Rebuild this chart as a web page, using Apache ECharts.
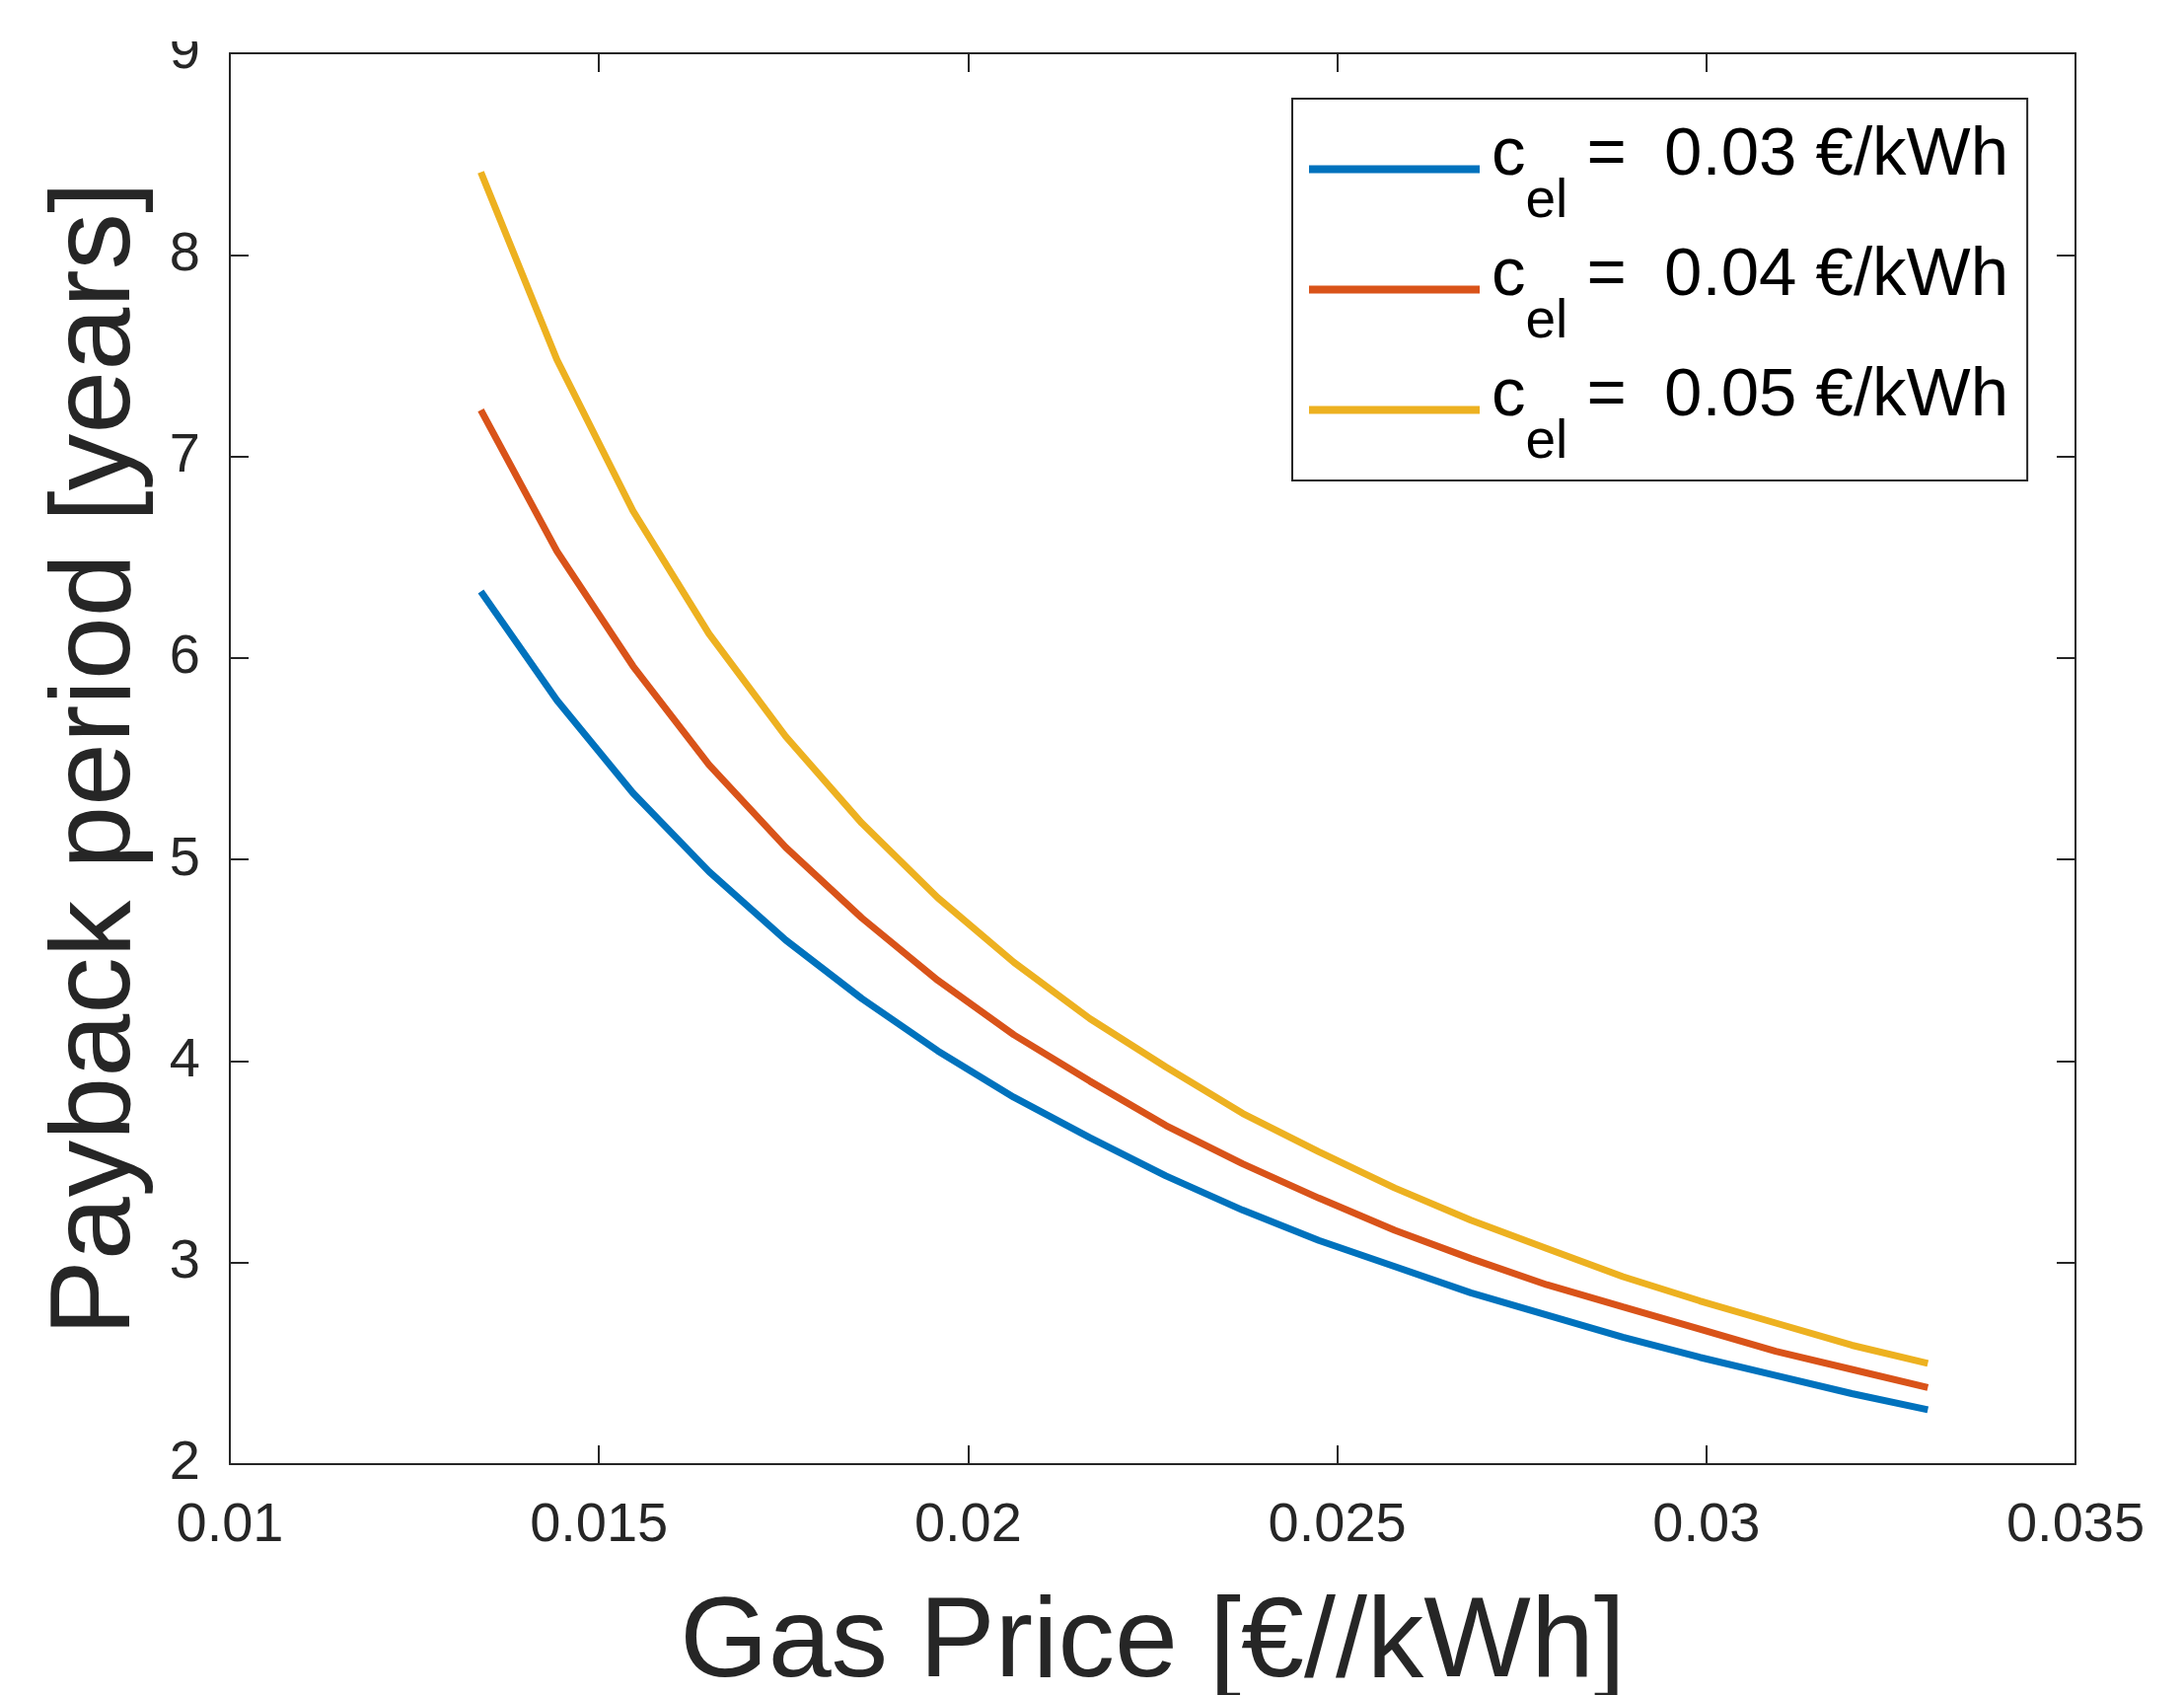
<!DOCTYPE html>
<html>
<head>
<meta charset="utf-8">
<script src="https://cdn.jsdelivr.net/npm/echarts@6/dist/echarts.min.js"></script>
<style>
html,body{margin:0;padding:0;background:#fff;}
#chart{width:2214px;height:1718px;}
</style>
</head>
<body>
<div id="chart"></div>
<script>
// ---- data ----
const gasPrice = [0.01340, 0.01443, 0.01546, 0.01649, 0.01753, 0.01856, 0.01959, 0.02062, 0.02165, 0.02268,
                  0.02372, 0.02475, 0.02578, 0.02681, 0.02784, 0.02887, 0.02991, 0.03094, 0.03197, 0.03300];
const payback_el003 = [6.33, 5.79, 5.33, 4.94, 4.60, 4.31, 4.05, 3.82, 3.62, 3.43,
                       3.26, 3.11, 2.98, 2.85, 2.74, 2.63, 2.53, 2.44, 2.35, 2.27];
const payback_el004 = [7.23, 6.53, 5.96, 5.47, 5.06, 4.71, 4.40, 4.13, 3.90, 3.68,
                       3.49, 3.32, 3.16, 3.02, 2.89, 2.78, 2.67, 2.56, 2.47, 2.38];
const payback_el005 = [8.41, 7.48, 6.73, 6.12, 5.61, 5.18, 4.81, 4.49, 4.21, 3.97,
                       3.74, 3.55, 3.37, 3.21, 3.07, 2.93, 2.81, 2.70, 2.59, 2.50];
const elPrices = ['0.03', '0.04', '0.05'];
const xTicks = [0.01, 0.015, 0.02, 0.025, 0.03, 0.035];
const yTicks = [2, 3, 4, 5, 6, 7, 8, 9];
const seriesColors = ['#0072BD', '#D95319', '#EDB120'];
const xTitle = 'Gas Price [€//kWh]';
const yTitle = 'Payback period [years]';

const FONT = "'Liberation Sans', Arial, Helvetica, sans-serif";
const AX = '#262626';
const allPayback = [payback_el003, payback_el004, payback_el005];
const seriesNames = elPrices.map(p => 'cel =  ' + p + ' €/kWh');

const xMin = xTicks[0], xMax = xTicks[xTicks.length - 1], xInt = xTicks[1] - xTicks[0];
const yMin = yTicks[0], yMax = yTicks[yTicks.length - 1], yInt = yTicks[1] - yTicks[0];

function fmt(v) { return String(parseFloat(Number(v).toFixed(6))); }

function baseAxis(extra) {
  return Object.assign({
    type: 'value',
    splitLine: { show: false },
    axisLine: { show: true, onZero: false, lineStyle: { color: AX, width: 2 } },
    axisTick: { show: true, inside: true, length: 19, lineStyle: { color: AX, width: 2 } }
  }, extra);
}

const chart = echarts.init(document.getElementById('chart'), null, { renderer: 'canvas' });
chart.setOption({
  animation: false,
  backgroundColor: '#fff',
  grid: { left: 233, right: 110, top: 54, bottom: 234, containLabel: false, outerBoundsMode: 'none' },
  xAxis: [
    baseAxis({
      position: 'bottom', min: xMin, max: xMax, interval: xInt,
      axisLabel: { color: AX, fontFamily: FONT, fontSize: 56, margin: 35, showMinLabel: true, showMaxLabel: true, formatter: fmt },
      name: xTitle, nameLocation: 'middle', nameGap: 126, nameMoveOverlap: false,
      nameTextStyle: { color: AX, fontFamily: FONT, fontSize: 115 }
    }),
    baseAxis({ position: 'top', min: xMin, max: xMax, interval: xInt, axisLabel: { show: false } })
  ],
  yAxis: [
    baseAxis({
      position: 'left', min: yMin, max: yMax, interval: yInt,
      axisLabel: { color: AX, fontFamily: FONT, fontSize: 56, margin: 30, showMinLabel: true, showMaxLabel: true, formatter: fmt },
      name: yTitle, nameLocation: 'middle', nameGap: 76, nameMoveOverlap: false,
      nameTextStyle: { color: AX, fontFamily: FONT, fontSize: 115 }
    }),
    baseAxis({ position: 'right', min: yMin, max: yMax, interval: yInt, axisLabel: { show: false } })
  ],
  legend: {
    show: true,
    orient: 'vertical',
    left: 1310, top: 100,
    padding: [23, 19, 11, 17],
    itemGap: 13,
    itemWidth: 173, itemHeight: 8,
    icon: 'rect',
    borderColor: AX, borderWidth: 2, backgroundColor: '#fff',
    data: seriesNames,
    formatter: function (name) {
      const i = seriesNames.indexOf(name);
      return '{c|c}{s|el}{t| =  ' + elPrices[i] + ' €/kWh}';
    },
    textStyle: {
      fontFamily: FONT, color: '#000',
      rich: {
        c: { fontFamily: FONT, fontSize: 69, color: '#000', padding: [0, 0, 28, 7] },
        t: { fontFamily: FONT, fontSize: 69, color: '#000', padding: [0, 0, 28, 0] },
        s: { fontFamily: FONT, fontSize: 55, color: '#000', padding: [66, 0, 0, 0] }
      }
    }
  },
  graphic: [{
    type: 'rect', z: 100, silent: true,
    shape: { x: 0, y: 0, width: 2214, height: 42 },
    style: { fill: '#fff' }
  }],
  series: allPayback.map((vals, i) => ({
    name: seriesNames[i],
    type: 'line',
    xAxisIndex: 0, yAxisIndex: 0,
    showSymbol: false,
    symbol: 'none',
    color: seriesColors[i],
    lineStyle: { width: 7, color: seriesColors[i] },
    data: gasPrice.map((x, j) => [x, vals[j]])
  }))
});
</script>
</body>
</html>
